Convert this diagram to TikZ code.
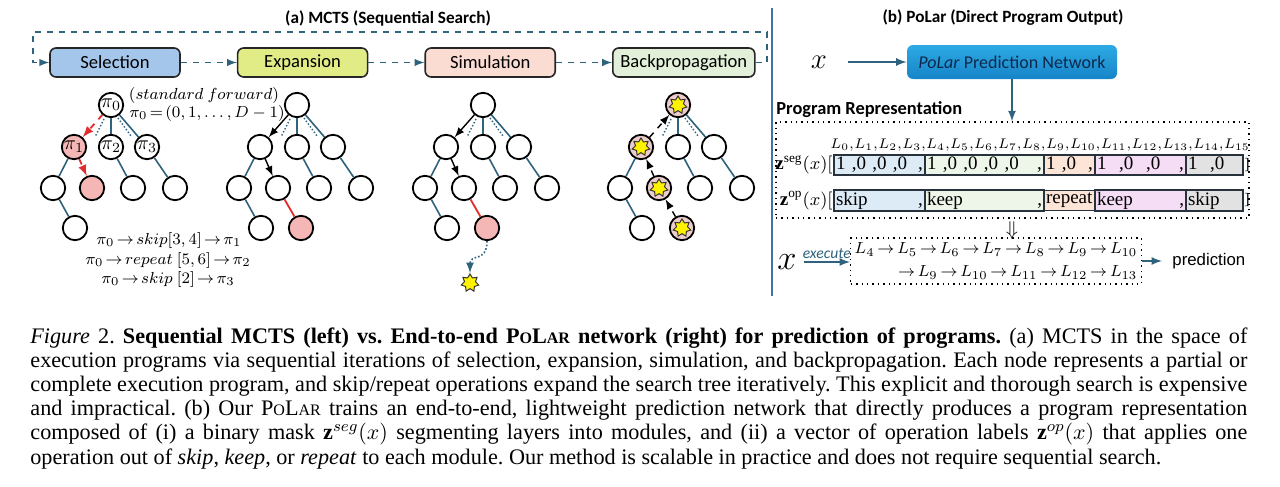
\documentclass[tikz,border=0pt]{standalone}
\usepackage{fontspec}
\setmainfont{Liberation Serif}
\newfontfamily\diagfont{Carlito}
\newfontfamily\arialfont{Liberation Sans}
\usetikzlibrary{shapes,arrows,positioning,calc}
\definecolor{edgeteal}{RGB}{47,98,125}
\definecolor{divblue}{RGB}{70,115,155}
\definecolor{selblue}{RGB}{164,198,234}
\definecolor{expyellow}{RGB}{226,236,134}
\definecolor{simpeach}{RGB}{250,220,210}
\definecolor{backgreen}{RGB}{226,240,217}
\definecolor{hitpink}{RGB}{245,182,182}
\definecolor{backpink}{RGB}{236,204,204}
\definecolor{pathred}{RGB}{225,45,45}
\definecolor{netlight}{RGB}{45,170,228}
\definecolor{netblue}{RGB}{22,132,200}
\definecolor{nettext}{RGB}{14,40,75}
\definecolor{segA}{RGB}{221,235,247}
\definecolor{segB}{RGB}{238,246,233}
\definecolor{segC}{RGB}{252,228,214}
\definecolor{segD}{RGB}{246,221,246}
\definecolor{segE}{RGB}{226,226,226}
\definecolor{bardark}{RGB}{40,50,60}
\newcommand{\polarsc}{P{\footnotesize O}L{\footnotesize AR}}
\newcommand{\cellend}{\hskip 0pt plus 1fill,}
\newcommand{\tightrel}{\thickmuskip=2.5mu\relax}
\newcommand{\tightpunct}{\thinmuskip=0.5mu\relax}

\begin{document}
\begin{tikzpicture}[x=0.5pt, y=-0.5pt, node distance=28pt,
    stage/.style={draw=black!85, line width=0.8pt, rounded corners=3pt, minimum width=65pt, minimum height=14.5pt, inner sep=0pt, font=\diagfont\fontsize{9.3}{11}\selectfont},
    loopflow/.style={dashed, edgeteal, line width=0.7pt, -latex},
    tnode/.style={circle, draw, line width=0.9pt, minimum size=12.2pt, inner sep=0pt},
    tedge/.style={edgeteal, line width=0.8pt},
    tdot/.style={edgeteal, densely dotted, line width=0.7pt},
    redpath/.style={pathred, dashed, line width=0.9pt, -latex},
    walk/.style={black, line width=0.7pt, -latex},
    backwalk/.style={black, dashed, line width=0.7pt, -latex},
    goldstar/.style={star, star points=7, star point ratio=1.6, fill=yellow, draw=black!80, line width=0.5pt, minimum size=9pt, inner sep=0pt},
    mathnote/.style={inner sep=0pt, font=\fontsize{8.3}{10}\selectfont},
    flow/.style={edgeteal, line width=0.8pt, -latex},
    netbox/.style={rounded corners=3pt, top color=netlight, bottom color=netblue, minimum width=105pt, minimum height=17pt, text=nettext, font=\diagfont\fontsize{9}{11}\selectfont},
    cell/.style={draw=bardark, line width=0.9pt, fill=#1, anchor=west, outer sep=0pt, inner sep=1pt, minimum height=10pt, align=left, font=\fontsize{9.5}{10}\selectfont},
    heading/.style={font=\diagfont\bfseries\fontsize{8.6}{10}\selectfont}]
  \useasboundingbox (0,0) rectangle (1280,487);

  % (a) MCTS
  \node[heading] (titleA) at (388,18) {(a) MCTS (Sequential Search)};
  \node[stage, fill=selblue] (sel) at (115,62.5) {Selection};
  \node[stage, fill=expyellow, right=of sel] (exp) {Expansion};
  \node[stage, fill=simpeach, right=of exp] (sim) {Simulation};
  \node[stage, fill=backgreen, minimum width=71pt, right=of sim] (bp) {Backpropagation};
  \coordinate (loopR) at (767,32);
  \coordinate (loopL) at (33,32);
  \draw[loopflow] (sel) -- (exp);
  \draw[loopflow] (exp) -- (sim);
  \draw[loopflow] (sim) -- (bp);
  \draw[loopflow] (bp.east) -| (loopR) -- (loopL) |- (sel.west);

  \foreach \t/\rx/\fr/\fa/\fe/\fk/\dk in {1/111/white/hitpink/hitpink/white/none, 2/297/white/white/white/hitpink/black, 3/483/white/white/white/hitpink/black, 4/678/backpink/backpink/backpink/backpink/black} {
    \node[tnode, fill=\fr] (r\t) at (\rx,105) {};
    \node[tnode, fill=\fa] (a\t) at (\rx-37,147) {};
    \node[tnode] (b\t) at (\rx,147) {};
    \node[tnode] (c\t) at (\rx+36,147) {};
    \node[tnode] (d\t) at (\rx-58,188) {};
    \node[tnode, fill=\fe] (e\t) at (\rx-19,188) {};
    \node[tnode] (f\t) at (\rx+22,188) {};
    \node[tnode] (g\t) at (\rx+64,188) {};
    \node[tnode] (h\t) at (\rx-36,228) {};
    \node[tnode, fill=\fk, draw=\dk] (k\t) at (\rx+4,228) {};
    \draw[tedge] (r\t) -- (b\t) (r\t) -- (c\t) (a\t) -- (d\t) (b\t) -- (f\t) (c\t) -- (g\t) (d\t) -- (h\t);
    \draw[tdot] ([shift={(-7,14)}]r\t.center) -- ([shift={(-16,32)}]r\t.center);
    \draw[tdot] ([shift={(7,13)}]r\t.center) -- ([shift={(20,31)}]r\t.center);
  }

  % selection tree
  \node[inner sep=0pt] (pi0) at (r1) {$\pi_0$};
  \node[inner sep=0pt] (pi1) at (a1) {$\pi_1$};
  \node[inner sep=0pt] (pi2) at (b1) {$\pi_2$};
  \node[inner sep=0pt] (pi3) at (c1) {$\pi_3$};
  \draw[redpath] (r1) -- (a1);
  \draw[redpath] (a1) -- (e1);
  \node[mathnote, font=\fontsize{8.1}{10}\selectfont] (stdfwd) at (204,95) {$(standard\ forward)$};
  \node[mathnote] (pistart) at (207,113) {$\tightrel\pi_0=(0,1,\ldots,D-1)$};
  \node[mathnote] (ruleA) at (169,240) {$\tightrel\pi_0\rightarrow skip[3,4]\rightarrow\pi_1$};
  \node[mathnote] (ruleB) at (168,260) {$\tightrel\pi_0\rightarrow repeat\ [5,6]\rightarrow\pi_2$};
  \node[mathnote] (ruleC) at (168,279) {$\tightrel\pi_0\rightarrow skip\ [2]\rightarrow\pi_3$};

  % expansion and simulation trees
  \draw[walk] (r2) -- (a2);
  \draw[walk] (a2) -- (e2);
  \draw[pathred, line width=0.9pt] (e2) -- (k2);
  \draw[walk] (r3) -- (a3);
  \draw[walk] (a3) -- (e3);
  \draw[pathred, line width=0.9pt] (e3) -- (k3);
  \node[goldstar] (simstar) at (470,283) {};
  \draw[edgeteal, densely dotted, line width=0.8pt, -latex] (k3.south) .. controls +(0,22) and +(0,-20) .. (simstar.north);

  % backpropagation tree
  \node[goldstar] (starR) at (r4) {};
  \node[goldstar] (starA) at (a4) {};
  \node[goldstar] (starE) at (e4) {};
  \node[goldstar] (starK) at (k4) {};
  \draw[backwalk] (k4) -- (e4);
  \draw[backwalk] (e4) -- (a4);
  \draw[backwalk] (a4) -- (r4);

  \coordinate (divtop) at (772,8);
  \coordinate (divbot) at (772,296);
  \draw[divblue, line width=0.8pt] (divtop) -- (divbot);

  % (b) PoLar
  \node[heading] (titleB) at (1003,18) {(b) PoLar (Direct Program Output)};
  \node[font=\fontsize{14}{14}\selectfont] (xtop) at (819,62) {$x$};
  \node[netbox] (net) at (1012,62) {\textit{PoLar} Prediction Network};
  \draw[flow, shorten <=7pt] (xtop) -- (net);
  \node[anchor=west, inner sep=0pt, font=\diagfont\bfseries\fontsize{9.2}{11}\selectfont] (progtitle) at (776,110) {Program Representation};
  \node[draw, dotted, line width=0.7pt, minimum width=236.5pt, minimum height=48pt, inner sep=0pt] (prog) at (1012.5,170) {};
  \draw[flow] (net) -- (prog.north -| net);
  \node[font=\fontsize{7.3}{10}\selectfont] (layers) at (1040,145) {$\tightpunct L_0, L_1, L_2, L_3, L_4, L_5, L_6, L_7, L_8, L_9, L_{10}, L_{11}, L_{12}, L_{13}, L_{14}, L_{15}$};

  \node[cell=segA, text width=43.5pt] (s1) at (834,165) {1 ,0 ,0 ,0 \cellend};
  \node[cell=segB, text width=57.5pt, right=0pt of s1] (s2) {1 ,0 ,0 ,0 ,0 \cellend};
  \node[cell=segC, text width=23.5pt, right=0pt of s2] (s3) {1 ,0 \cellend};
  \node[cell=segD, text width=43.5pt, right=0pt of s3] (s4) {1 \ ,0 \ ,0 \cellend};
  \node[cell=segE, text width=26.5pt, right=0pt of s4] (s5) {1 \ ,0};
  \node[anchor=east, inner sep=0.5pt, font=\fontsize{9.5}{10}\selectfont] (zseg) at (s1.west) {$\mathbf{z}^{\mathrm{seg}}(x)[$};
  \node[anchor=west, inner sep=0.5pt, font=\fontsize{8}{9}\selectfont] (segend) at (s5.east) {]};

  \node[cell=segA, text width=43.5pt] (o1) at (834,200.5) {skip\cellend};
  \node[cell=segB, text width=57.5pt, right=0pt of o1] (o2) {keep\cellend};
  \node[cell=segC, text width=23.5pt, right=0pt of o2] (o3) {repeat};
  \node[cell=segD, text width=43.5pt, right=0pt of o3] (o4) {keep\cellend};
  \node[cell=segE, text width=26.5pt, right=0pt of o4] (o5) {skip};
  \node[anchor=east, inner sep=0.5pt, font=\fontsize{9.5}{10}\selectfont] (zop) at (o1.west) {$\mathbf{z}^{\mathrm{op}}(x)[$};
  \node[anchor=west, inner sep=0.5pt, font=\fontsize{8}{9}\selectfont] (opend) at (o5.east) {]};

  \node[inner sep=0pt] (down) at (1012,230) {$\Downarrow$};
  \node[draw, dotted, line width=0.7pt, align=right, minimum width=140pt, minimum height=23pt, inner sep=2pt, font=\fontsize{7.9}{11.5}\selectfont] (exec) at (996,261) {$\thickmuskip=3mu\relax L_4\to L_5\to L_6\to L_7\to L_8\to L_9\to L_{10}$\\$\thickmuskip=3mu\relax\to L_9\to L_{10}\to L_{11}\to L_{12}\to L_{13}$};
  \node[font=\fontsize{18}{18}\selectfont] (xexec) at (787,262) {$x$};
  \draw[flow] (xexec.east) -- (xexec.east -| exec.west) node[midway, above, inner sep=1.5pt, font=\diagfont\itshape\fontsize{7.8}{9}\selectfont] {execute};
  \node[right=13pt of exec, inner sep=2pt, font=\arialfont\fontsize{8.4}{10}\selectfont] (pred) {prediction};
  \draw[flow, shorten >=3pt] (exec) -- (pred);

  % caption
  \node[anchor=north west, inner sep=0pt, text width=608.5pt, align=justify, font=\fontsize{11.1}{12.1}\selectfont] (caption) at (30,327) {\frenchspacing\hyphenpenalty=10000 \textit{Figure} 2. \textbf{Sequential MCTS (left) vs. End-to-end \polarsc{} network (right) for prediction of programs.} (a) MCTS in the space of\linebreak execution programs via sequential iterations of selection, expansion, simulation, and backpropagation. Each node represents a partial or\linebreak complete execution program, and skip/repeat operations expand the search tree iteratively. This explicit and thorough search is expensive\linebreak and impractical. (b) Our \polarsc{} trains an end-to-end, lightweight prediction network that directly produces a program representation\linebreak composed of (i) a binary mask $\mathbf{z}^{seg}(x)$ segmenting layers into modules, and (ii) a vector of operation labels $\mathbf{z}^{op}(x)$ that applies one\linebreak operation out of \textit{skip}, \textit{keep}, or \textit{repeat} to each module. Our method is scalable in practice and does not require sequential search.};
\end{tikzpicture}
\end{document}
